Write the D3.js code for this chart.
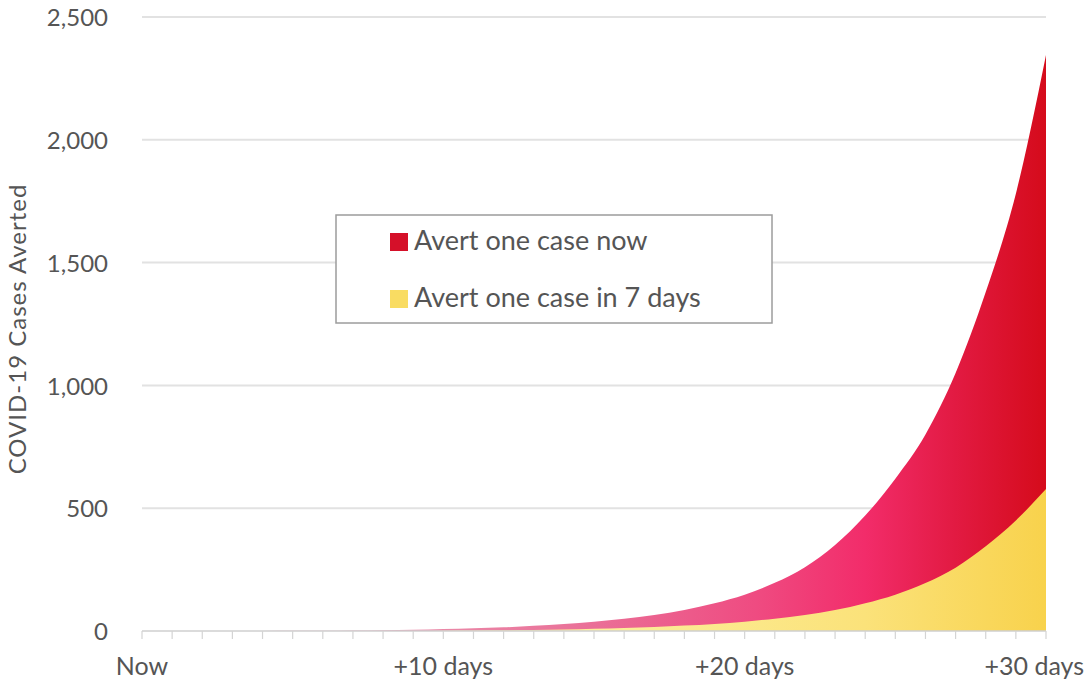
<!DOCTYPE html>
<html>
<head>
<meta charset="utf-8">
<script src="https://cdn.jsdelivr.net/npm/d3@7"></script>
<style>
  body { margin: 0; background: #fff; }
  text { font-family: Lato, "Open Sans", sans-serif; fill: #555; }
</style>
</head>
<body>
<svg width="1086" height="682"></svg>
<script>
// days from now, one point per day
var days = [0,1,2,3,4,5,6,7,8,9,10,11,12,13,14,15,16,17,18,19,20,21,22,23,24,25,26,27,28,29,30];
var avertNow = [0,0,0,0,0,1,1,2,3,5,8,11,15,21,28,38,50,65,86,113,148,196,260,350,470,620,800,1050,1380,1780,2345];
var avertLater = [0,0,0,0,0,0,0,0,0,0,1,2,3,4,6,9,12,16,22,29,38,50,65,85,113,148,195,258,345,450,578];

var xLabelDays = [0, 10, 20, 30];
var xLabels = ["Now", "+10 days", "+20 days", "+30 days"];
var yTicks = [0, 500, 1000, 1500, 2000, 2500];
var seriesNames = ["Avert one case now", "Avert one case in 7 days"];

var svg = d3.select("svg");

var x = d3.scaleLinear().domain([0, 30]).range([142, 1046]);
var y = d3.scaleLinear().domain([0, 2500]).range([631, 17]);

var defs = svg.append("defs");

function gradient(id, stops) {
  var g = defs.append("linearGradient")
    .attr("id", id)
    .attr("gradientUnits", "userSpaceOnUse")
    .attr("x1", x(0)).attr("x2", x(30))
    .attr("y1", 0).attr("y2", 0);
  stops.forEach(function(s) {
    g.append("stop").attr("offset", s[0]).attr("stop-color", s[1]);
  });
}

gradient("redGrad", [
  [0.28, "#ea90ad"],
  [0.5, "#ea6f97"],
  [0.68, "#ef4b81"],
  [0.8, "#f22c6a"],
  [0.9, "#e21a42"],
  [1, "#d50b1b"]
]);
gradient("yellowGrad", [
  [0.5, "#fcef9c"],
  [0.8, "#fbe27a"],
  [1, "#f8d24c"]
]);

// gridlines
svg.append("g")
  .selectAll("line")
  .data(yTicks.slice(1))
  .enter().append("line")
  .attr("x1", x(0)).attr("x2", x(30))
  .attr("y1", function(d) { return y(d); })
  .attr("y2", function(d) { return y(d); })
  .attr("stroke", "#e2e2e2")
  .attr("stroke-width", 2);

// y tick labels
svg.append("g")
  .selectAll("text")
  .data(yTicks)
  .enter().append("text")
  .attr("x", 108)
  .attr("y", function(d) { return y(d); })
  .attr("dy", "0.38em")
  .attr("text-anchor", "end")
  .style("font-size", "24px")
  .text(function(d) { return d3.format(",")(d); });

svg.append("text")
  .attr("transform", "translate(26,329) rotate(-90)")
  .attr("text-anchor", "middle")
  .style("font-size", "24px")
  .style("letter-spacing", "1px")
  .text("COVID-19 Cases Averted");

// areas
var area = function(values) {
  return d3.area()
    .curve(d3.curveMonotoneX)
    .x(function(d) { return x(d); })
    .y0(y(0))
    .y1(function(d, i) { return y(values[i]); })(days);
};

svg.append("path")
  .attr("d", area(avertNow))
  .attr("fill", "url(#redGrad)");

svg.append("path")
  .attr("d", area(avertLater))
  .attr("fill", "url(#yellowGrad)");

// x axis baseline and day ticks
svg.append("line")
  .attr("x1", x(0)).attr("x2", x(30))
  .attr("y1", y(0)).attr("y2", y(0))
  .attr("stroke", "#cfcfcf")
  .attr("stroke-width", 1.5);

svg.append("g")
  .selectAll("line")
  .data(days)
  .enter().append("line")
  .attr("x1", function(d) { return x(d); })
  .attr("x2", function(d) { return x(d); })
  .attr("y1", y(0)).attr("y2", y(0) + 8)
  .attr("stroke", "#d4d4d4")
  .attr("stroke-width", 1.2);

// the last label is pulled in so it stays on the page
svg.append("g")
  .selectAll("text")
  .data(xLabelDays)
  .enter().append("text")
  .attr("x", function(d, i) { return i === xLabelDays.length - 1 ? 1084 : x(d); })
  .attr("y", 675)
  .attr("text-anchor", function(d, i) { return i === xLabelDays.length - 1 ? "end" : "middle"; })
  .style("font-size", "25px")
  .text(function(d, i) { return xLabels[i]; });

// legend
var legend = svg.append("g");
legend.append("rect")
  .attr("x", 336).attr("y", 215)
  .attr("width", 436).attr("height", 108)
  .attr("fill", "#fff")
  .attr("stroke", "#9c9c9c")
  .attr("stroke-width", 1.5);

var legendColors = ["#d51029", "#f9dc62"];
var item = legend.selectAll("g.item")
  .data(seriesNames)
  .enter().append("g")
  .attr("class", "item")
  .attr("transform", function(d, i) { return "translate(390," + (233 + i * 57) + ")"; });

item.append("rect")
  .attr("width", 18).attr("height", 18)
  .attr("fill", function(d, i) { return legendColors[i]; });

item.append("text")
  .attr("x", 24)
  .attr("y", 17)
  .style("font-size", "27px")
  .text(function(d) { return d; });
</script>
</body>
</html>
